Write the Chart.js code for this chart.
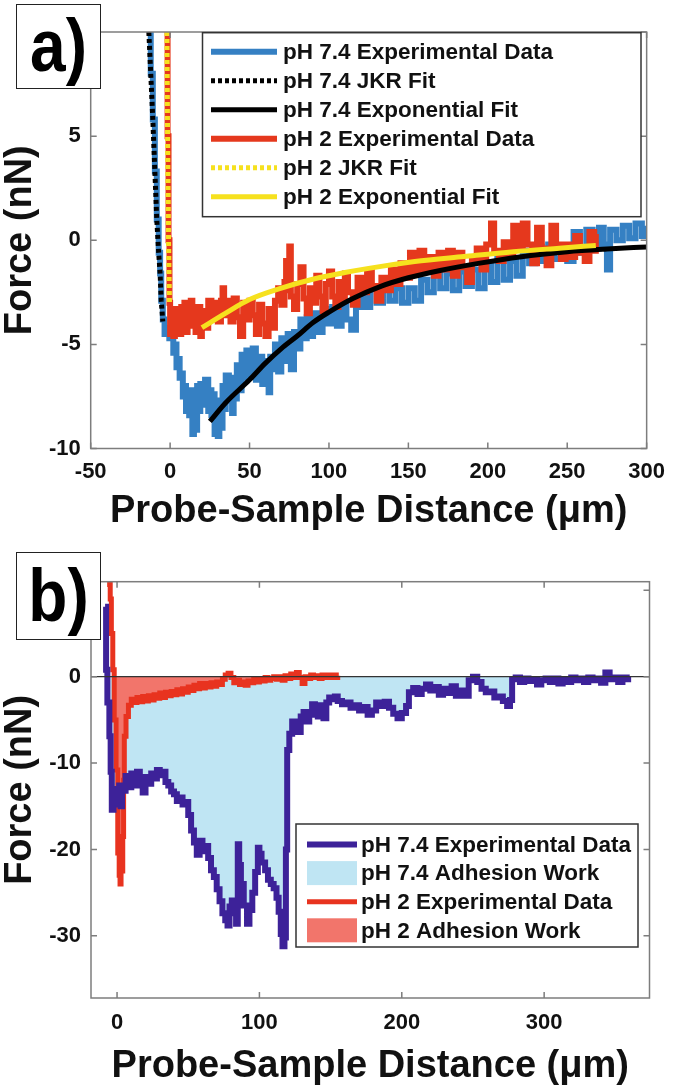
<!DOCTYPE html>
<html>
<head>
<meta charset="utf-8">
<script src="https://cdn.jsdelivr.net/npm/chart.js@4.4.0/dist/chart.umd.min.js"></script>
<style>
  html, body { margin: 0; padding: 0; background: #fff; }
  #page { position: relative; width: 675px; height: 1086px; overflow: hidden; }
  .panel { position: absolute; left: 0; width: 675px; }
  #panelA { top: 0; height: 540px; }
  #panelB { top: 540px; height: 546px; }
  .tag {
    position: absolute; left: 16px; width: 83px; height: 83px;
    border: 1.5px solid #222; background: #fff; color: #000;
    font: bold 64px "Liberation Sans", Arial, sans-serif;
    text-align: center; line-height: 83px;
  }
  .tag span { display: inline-block; transform: scaleY(1.15); }
</style>
</head>
<body>
<div id="page">
  <div class="panel" id="panelA">
    <canvas id="chartA" width="675" height="540"></canvas>
    <div class="tag" style="top:4px"><span>a)</span></div>
  </div>
  <div class="panel" id="panelB">
    <canvas id="chartB" width="675" height="546"></canvas>
    <div class="tag" style="top:12px; height:86px; line-height:86px"><span>b)</span></div>
  </div>
</div>
<script>
// ---- panel a : force curves with fits ----
const aTicksX = [-50, 0, 50, 100, 150, 200, 250, 300];
const aTicksY = [-10, -5, 0, 5, 10];
const aExp74 = [[-13.4,10],[-12.2,8.0],[-10.9,5.8],[-9.6,3.3],[-8.4,1.0],[-7.2,-0.6],[-6.3,-1.6],[-5.6,-2.9],[-4.6,-3.8],[-3.5,-4.5],
  [-2.0,-4.2],[-0.5,-4.7],[1,-4.4],[2,-5.4],[3,-5.0],[4,-6.1],[5,-5.7],[6,-6.6],[7,-6.4],[8,-7.5],[9,-7.0],[10,-8.2],[11,-7.4],
  [12,-8.4],[13,-7.2],[14,-9.3],[15,-8.0],[16,-9.1],[17,-7.0],[18,-8.2],[19,-6.9],[21,-7.9],[22,-6.7],[24,-8.2],[25,-7.2],[26,-8.4],
  [27,-7.4],[28,-9.3],[29,-8.0],[30,-9.4],[31,-7.7],[32,-9.0],[33,-7.0],[34,-8.1],[35,-6.5],[37,-7.7],[38,-6.6],[39,-8.3],[40,-6.8],
  [41,-7.6],[42,-6.0],[44,-7.2],[45,-5.5],[47,-6.6],[48,-5.3],[50,-6.5],[52,-5.2],[54,-6.7],[56,-5.6],[58,-6.9],[60,-5.8],[62,-7.3],
  [63,-5.6],[65,-6.2],[66,-5.0],[68,-6.3],[70,-4.7],[72,-5.8],[74,-4.5],[76,-6.2],[78,-4.4],[80,-5.2],[82,-3.8],[84,-4.7],[86,-3.7],
  [88,-4.6],[90,-3.5],[93,-4.4],[96,-3.3],[99,-4.0],[102,-3.2],[105,-4.1],[108,-3.1],[111,-3.8],[114,-4.3],[117,-3.2],[120,-2.7],
  [123,-3.2],[126,-2.2],[130,-3.0],[134,-2.1],[138,-2.9],[142,-2.3],[146,-3.0],[150,-2.3],[154,-2.9],[158,-1.9],[162,-2.5],[166,-1.4],
  [170,-2.3],[174,-1.6],[178,-2.4],[182,-1.5],[186,-2.2],[190,-1.4],[194,-2.3],[198,-1.1],[202,-2.0],[206,-0.9],[210,-1.9],[214,-1.0],
  [218,-1.7],[222,-0.5],[226,-1.1],[230,-0.3],[234,-1.0],[238,-0.2],[242,-0.9],[246,-0.3],[250,-1.0],[254,0.4],[258,-0.6],[262,0.5],
  [266,-0.4],[270,0.6],[273,-0.2],[275,-1.4],[277,0.5],[281,0.0],[285,0.7],[289,0.1],[293,0.8],[297,0.2],[300,0.7]];
const aJkr74 = [[-13.4,10],[-12.2,8.0],[-10.9,5.8],[-9.6,3.3],[-8.4,1.0],[-7.2,-0.6],[-6.3,-1.6],[-5.6,-2.9],[-4.6,-3.9]];
const aFit74 = [[25,-8.7],[35,-7.8],[50,-6.7],[60,-5.9],[70,-5.2],[80,-4.6],[90,-3.95],[100,-3.45],[115,-2.8],[133,-2.2],
  [150,-1.8],[170,-1.45],[195,-1.1],[220,-0.8],[250,-0.55],[275,-0.42],[300,-0.32]];
const aExp2 = [[-2.0,10],[-1.6,5],[-1.0,0],[-0.4,-3.0],[0,-4.5],[1,-3.5],[2,-4.6],[3,-3.3],[4,-4.2],[5,-3.5],[6,-4.5],[7,-3.2],
  [8,-4.1],[9,-3.0],[10,-4.4],[11,-3.4],[12,-4.0],[13,-2.9],[14,-4.1],[15,-3.3],[16,-4.4],[17,-3.2],[19,-4.6],[20,-3.4],[22,-4.2],
  [24,-2.9],[26,-3.8],[28,-3.0],[30,-3.9],[32,-2.9],[33,-2.3],[34,-3.6],[36,-2.9],[38,-3.9],[40,-2.8],[42,-3.7],[44,-4.6],[46,-3.0],
  [48,-3.8],[50,-2.9],[52,-3.6],[54,-4.5],[56,-3.1],[58,-4.0],[60,-4.6],[62,-3.3],[64,-4.2],[66,-2.9],[68,-2.3],[70,-3.1],[72,-2.0],
  [73,-1.0],[74,-2.4],[75,-0.3],[76,-2.7],[78,-3.3],[80,-2.1],[82,-1.3],[84,-2.8],[86,-3.5],[88,-2.3],[90,-3.0],[92,-1.7],[94,-2.7],
  [96,-3.4],[98,-2.1],[100,-1.5],[102,-2.7],[104,-3.2],[106,-2.0],[108,-2.9],[110,-1.6],[112,-2.5],[115,-3.1],[118,-1.8],[121,-2.5],
  [124,-1.5],[127,-2.2],[130,-2.9],[133,-1.8],[136,-2.4],[139,-1.4],[142,-2.1],[145,-1.1],[148,-1.8],[151,-0.6],[154,-1.6],[157,-0.5],
  [160,-1.5],[163,-0.8],[166,-1.7],[169,-0.6],[172,-1.4],[175,-0.5],[178,-1.7],[181,-0.6],[184,-1.3],[187,-2.0],[190,-0.9],[193,-0.4],
  [196,-1.4],[199,-0.2],[202,0.8],[204,-0.5],[207,-1.0],[210,-0.1],[213,-0.8],[216,0.7],[219,-0.4],[222,0.8],[225,-0.2],[228,-1.1],
  [231,0.6],[234,-0.4],[237,-1.2],[240,0.7],[243,-0.2],[246,-0.9],[249,-0.2],[252,-0.8],[255,0.2],[258,-0.6],[261,-1.0],[264,0.4],
  [267,-0.5],[268,0.3]];
const aJkr2 = [[-2.0,10],[-1.6,5],[-1.0,0],[-0.4,-3.0]];
const aFit2 = [[20,-4.2],[35,-3.5],[50,-2.85],[70,-2.3],[91,-1.85],[110,-1.55],[125,-1.35],[154,-1.02],[185,-0.78],[216,-0.55],
  [245,-0.38],[268,-0.25]];

// ---- panel b : adhesion work ----
const bTicksX = [0, 100, 200, 300];
const bTicksY = [-30, -20, -10, 0, 10];
const bExp74 = [[-8.4,8.1],[-7.7,0.8],[-6.8,-3],[-5.4,-6.9],[-4.5,-11],[-3.7,-15.4],[-2.5,-14.5],[-1.0,-13.0],[0.7,-14.8],[1.5,-12.6],
  [2.5,-15],[3.5,-12.8],[5,-13.2],[6,-11.5],[8,-12.8],[10,-11.2],[12,-12.6],[14,-11.0],[16,-12.0],[18,-13.4],[20,-11.6],[22,-12.4],
  [24,-11.2],[26,-11.8],[28,-10.8],[30,-11.4],[32,-11.0],[34,-12.2],[36,-12.6],[38,-13.3],[40,-13.6],[42,-14.4],[44,-14.0],[46,-14.8],
  [48,-14.5],[50,-16.0],[52,-17.8],[54,-19.2],[56,-20.6],[58,-19.0],[60,-20.2],[62,-19.6],[64,-21.0],[66,-22.4],[68,-23.2],[70,-24.6],
  [72,-26.0],[74,-27.4],[76,-28.2],[77.6,-28.8],[79,-26.6],[80.6,-25.9],[82,-27.4],[83.6,-28.6],[84.8,-19.4],[85.8,-21.8],[87,-24.0],
  [89,-26.5],[91.3,-28.6],[93,-27.0],[95,-25.0],[97,-22.6],[98.9,-19.8],[100,-20.5],[101.5,-21.5],[104,-22.4],[106,-23.5],[108,-24.0],
  [110,-24.5],[112,-25.6],[113.5,-27.2],[115,-29.8],[116.2,-31.2],[117.6,-30.2],[118.6,-20],[119.5,-8.5],[121,-6.6],[123,-5.2],
  [125,-6.0],[127,-6.4],[129,-4.6],[131,-4.1],[133,-5.2],[135,-4.4],[137,-3.2],[139,-3.8],[141,-4.6],[143,-3.3],[145,-4.8],[147,-3.0],
  [149,-2.4],[151,-2.6],[153,-2.3],[155,-2.8],[158,-3.2],[161,-3.0],[164,-3.6],[167,-3.3],[170,-3.9],[173,-3.5],[176,-4.4],[179,-3.9],
  [182,-3.0],[185,-3.4],[188,-2.9],[191,-3.6],[194,-4.3],[197,-4.8],[200,-4.2],[203,-3.4],[205,-1.8],[208,-1.3],[211,-2.0],[214,-1.4],
  [217,-0.9],[220,-1.6],[223,-1.2],[226,-2.1],[229,-1.4],[232,-1.9],[235,-1.1],[238,-2.2],[241,-1.6],[244,-2.2],[247,-0.4],[250,0.0],
  [253,-0.6],[256,-1.4],[259,-1.8],[262,-1.7],[265,-2.4],[268,-2.3],[271,-2.8],[274,-3.4],[276,-2.7],[277.5,-0.3],[280,-0.1],[283,-0.6],
  [286,-0.2],[289,-0.5],[292,-0.3],[295,-0.9],[298,-0.4],[301,-0.2],[304,-0.6],[307,-0.2],[310,-0.8],[313,-0.3],[316,-0.6],[319,-0.1],
  [322,-0.4],[325,-0.2],[328,-0.6],[331,-0.1],[334,-0.4],[337,-0.2],[340,-0.7],[343,0.5],[346,-0.3],[349,-0.1],[352,-0.6],[355,-0.1],
  [358,-0.3],[359,0.0]];
const bExp2 = [[-5.6,10.4],[-5.2,11.0],[-4.8,9.0],[-4.0,5.0],[-3.0,0.8],[-2.0,-5.0],[-0.7,-10.8],[0.5,-20.4],[1.5,-23.0],[2.1,-24.0],
  [2.8,-22.5],[4.0,-18.5],[4.6,-12.0],[5.1,-6.9],[6.3,-4.6],[8,-3.3],[10,-2.6],[12,-3.0],[14,-2.4],[16,-2.9],[18,-2.3],[20,-2.8],
  [22,-2.2],[24,-2.7],[26,-2.1],[28,-2.5],[30,-1.9],[32,-2.4],[34,-1.8],[36,-2.2],[38,-1.7],[40,-2.1],[42,-1.5],[44,-2.0],[46,-1.4],
  [48,-1.8],[50,-1.2],[52,-1.6],[54,-1.0],[56,-1.4],[58,-0.8],[60,-1.3],[62,-0.8],[64,-1.2],[66,-0.7],[68,-1.1],[70,-0.6],[72,-0.9],
  [74,-0.3],[76,0.2],[78,0.4],[80,-0.1],[82,-0.7],[84,-0.4],[86,-0.9],[88,-0.6],[90,-1.0],[92,-0.5],[94,-0.7],[96,-0.3],[98,-0.6],
  [100,-0.2],[102,-0.5],[104,-0.1],[106,-0.4],[108,-0.2],[110,0.0],[112,-0.3],[114,0.0],[116,-0.4],[118,0.1],[120,-0.2],[122,0.3],
  [124,-0.1],[126,0.5],[128,-0.1],[130,-0.8],[132,0.0],[134,-0.2],[136,0.2],[138,-0.1],[140,0.1],[142,-0.2],[144,0.2],[146,-0.1],
  [148,0.2],[150,-0.1],[152,0.2],[154,-0.1],[155,0.1]];

const FAMILY = '"Liberation Sans", Arial, Helvetica, sans-serif';
const tickFont = { family: FAMILY, size: 22, weight: 'bold' };
const titleFont = { family: FAMILY, size: 38, weight: 'bold', lineHeight: 1.0 };
const xy = pairs => pairs.map(([x, y]) => ({ x, y }));

// box frame, inward ticks on all sides, optional zero line
const frame = {
  id: 'frame',
  afterDatasetsDraw(chart, args, opts) {
    const { ctx, chartArea: a, scales: { x, y } } = chart;
    ctx.save();
    if (opts.zeroLine) {
      const py = y.getPixelForValue(0);
      ctx.strokeStyle = '#333';
      ctx.lineWidth = 1.2;
      ctx.beginPath(); ctx.moveTo(a.left, py); ctx.lineTo(a.right, py); ctx.stroke();
    }
    ctx.strokeStyle = '#7d7d7d';
    ctx.lineWidth = 1.5;
    ctx.strokeRect(a.left, a.top, a.width, a.height);
    ctx.beginPath();
    x.ticks.forEach(t => {
      const px = x.getPixelForValue(t.value);
      ctx.moveTo(px, a.bottom); ctx.lineTo(px, a.bottom - 6);
      ctx.moveTo(px, a.top); ctx.lineTo(px, a.top + 6);
    });
    y.ticks.forEach(t => {
      const py = y.getPixelForValue(t.value);
      ctx.moveTo(a.left, py); ctx.lineTo(a.left + 6, py);
      ctx.moveTo(a.right, py); ctx.lineTo(a.right - 6, py);
    });
    ctx.stroke();
    ctx.restore();
  }
};

// matlab-style boxed legend placed inside the axes
const boxLegend = {
  id: 'boxLegend',
  afterDraw(chart, args, o) {
    const ctx = chart.ctx;
    ctx.save();
    ctx.fillStyle = '#fff';
    ctx.fillRect(o.left, o.top, o.width, o.height);
    ctx.strokeStyle = '#333';
    ctx.lineWidth = 1.5;
    ctx.strokeRect(o.left, o.top, o.width, o.height);
    const items = chart.data.datasets.filter(d => d.legendRow !== undefined)
      .sort((p, q) => p.legendRow - q.legendRow);
    items.forEach((d, i) => {
      const yy = o.firstRow + i * o.rowGap;
      if (d.fill) {
        ctx.fillStyle = d.fill.below;
        ctx.fillRect(o.sample0, yy - o.patchH / 2, o.sample1 - o.sample0, o.patchH);
      } else {
        ctx.strokeStyle = d.borderColor;
        ctx.lineWidth = d.borderWidth;
        ctx.setLineDash(d.borderDash || []);
        ctx.beginPath(); ctx.moveTo(o.sample0, yy); ctx.lineTo(o.sample1, yy); ctx.stroke();
        ctx.setLineDash([]);
      }
      ctx.fillStyle = '#111';
      ctx.font = 'bold 22.5px ' + FAMILY;
      ctx.textBaseline = 'middle';
      ctx.fillText(d.label, o.textX, yy + 1);
    });
    ctx.restore();
  }
};

function axes(o) {
  return {
    x: {
      type: 'linear', min: o.xMin, max: o.xMax,
      grid: { display: false, drawTicks: false }, border: { display: false },
      ticks: { padding: o.xTickPad, color: '#111', font: tickFont, maxRotation: 0, autoSkip: false },
      afterBuildTicks: s => { s.ticks = o.xTicks.map(v => ({ value: v })); },
      title: { display: true, text: 'Probe-Sample Distance (μm)', color: '#111', font: titleFont,
               padding: { top: 0, bottom: o.xTitlePad } },
      afterFit: s => { s.height = o.xHeight; }
    },
    y: {
      type: 'linear', min: o.yMin, max: o.yMax,
      grid: { display: false, drawTicks: false }, border: { display: false },
      ticks: { padding: 10, color: '#111', font: tickFont, autoSkip: false },
      afterBuildTicks: s => { s.ticks = o.yTicks.map(v => ({ value: v })); },
      title: { display: true, text: 'Force (nN)', color: '#111', font: titleFont, padding: { top: 2, bottom: 0 } },
      afterFit: s => { s.width = o.yWidth; }
    }
  };
}

const line = (label, data, color, width, extra) => Object.assign({
  label, data: xy(data), borderColor: color, backgroundColor: color, borderWidth: width,
  pointRadius: 0, fill: false
}, extra);

new Chart(document.getElementById('chartA'), {
  type: 'line',
  data: {
    datasets: [
      line('pH 7.4 Experimental Data', aExp74, '#3580c3', 6, { stepped: true, order: 6, legendRow: 0 }),
      line('pH 2 Experimental Data', aExp2, '#e5381d', 6, { stepped: true, order: 5, legendRow: 3 }),
      line('pH 7.4 JKR Fit', aJkr74, '#000000', 5, { borderDash: [4, 3], order: 4, legendRow: 1 }),
      line('pH 2 JKR Fit', aJkr2, '#f6e11e', 5, { borderDash: [4, 3], order: 3, legendRow: 4 }),
      line('pH 7.4 Exponential Fit', aFit74, '#000000', 5, { cubicInterpolationMode: 'monotone', order: 2, legendRow: 2 }),
      line('pH 2 Exponential Fit', aFit2, '#f6e11e', 5, { cubicInterpolationMode: 'monotone', order: 1, legendRow: 5 })
    ]
  },
  options: {
    responsive: false, animation: false,
    layout: { padding: { top: 32, right: 24, left: 0, bottom: 0 } },
    scales: axes({ xMin: -50, xMax: 300, xTicks: aTicksX, yMin: -10, yMax: 10, yTicks: aTicksY,
                   xTickPad: 10, xTitlePad: 9, xHeight: 91.5, yWidth: 90.7 }),
    plugins: {
      legend: { display: false }, tooltip: { enabled: false },
      frame: { zeroLine: false },
      boxLegend: { left: 202.5, top: 32.7, width: 438.5, height: 184, firstRow: 51.7, rowGap: 29,
                   sample0: 211, sample1: 277, textX: 283, patchH: 20 }
    }
  },
  plugins: [frame, boxLegend]
});

new Chart(document.getElementById('chartB'), {
  type: 'line',
  data: {
    datasets: [
      line('pH 7.4 Adhesion Work', bExp74, 'rgba(0,0,0,0)', 1,
           { stepped: true, order: 5, legendRow: 1, fill: { target: 'origin', above: 'rgba(0,0,0,0)', below: '#bfe5f3' } }),
      line('pH 2 Adhesion Work', bExp2, 'rgba(0,0,0,0)', 1,
           { stepped: true, order: 4, legendRow: 3, fill: { target: 'origin', above: 'rgba(0,0,0,0)', below: '#f2756b' } }),
      line('pH 2 Experimental Data', bExp2, '#e8331f', 5, { stepped: true, order: 2, legendRow: 2 }),
      line('pH 7.4 Experimental Data', bExp74, '#3d2299', 6, { stepped: true, order: 1, legendRow: 0 })
    ]
  },
  options: {
    responsive: false, animation: false,
    layout: { padding: { top: 41.7, right: 25.5, left: 0, bottom: 0 } },
    scales: axes({ xMin: -18.3, xMax: 374, xTicks: bTicksX, yMin: -37.2, yMax: 11, yTicks: bTicksY,
                   xTickPad: 12, xTitlePad: 0, xHeight: 88, yWidth: 91 }),
    plugins: {
      legend: { display: false }, tooltip: { enabled: false },
      frame: { zeroLine: true },
      boxLegend: { left: 296, top: 284, width: 342, height: 123, firstRow: 304.5, rowGap: 28.6,
                   sample0: 307, sample1: 357, textX: 361, patchH: 24 }
    }
  },
  plugins: [frame, boxLegend]
});
</script>
</body>
</html>
